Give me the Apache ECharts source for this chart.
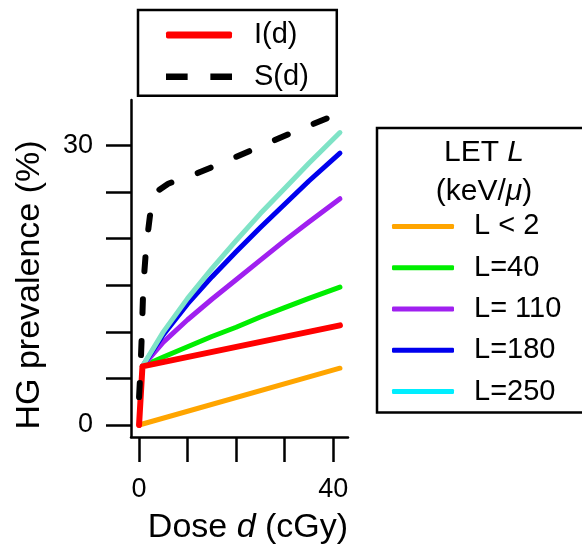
<!DOCTYPE html>
<html>
<head>
<meta charset="utf-8">
<script src="https://cdn.jsdelivr.net/npm/echarts@6/dist/echarts.min.js"></script>
<style>
html, body { margin: 0; padding: 0; background: #fff; }
#container { width: 582px; height: 546px; }
</style>
</head>
<body>
<div id="container"></div>
<script>
// axis ticks / labels
const doseTicks = [0, 10, 20, 30, 40];
const doseLabels = [0, 40];
const prevTicks = [0, 5, 10, 15, 20, 25, 30];
const prevLabels = [0, 30];

// LET curves
const letNames = ['L < 2', 'L=40', 'L= 110', 'L=180', 'L=250'];
const orangeDose = [0, 41.4];
const orangeVal = [0, 6.1];
const letDose = [0.7, 5, 10, 15, 20, 25, 30, 35, 41.4];
const greenVal = [6.3, 7.3, 8.4, 9.5, 10.5, 11.6, 12.6, 13.6, 14.8];
const purpleVal = [6.3, 8.9, 11.3, 13.5, 15.6, 17.7, 19.8, 21.8, 24.3];
const blueVal = [6.3, 9.7, 13.0, 15.9, 18.6, 21.2, 23.7, 26.2, 29.2];
const cyanVal = [6.3, 10.0, 13.6, 16.8, 19.8, 22.7, 25.4, 28.1, 31.4];

// I(d) and S(d)
const iDose = [0, 0.7, 41.4];
const iVal = [0, 6.3, 10.7];
const sDose = [0, 0.3, 0.55, 0.83, 1.1, 1.4, 1.9, 2.4, 3, 4, 6, 8, 10, 16, 24, 32, 41.4];
const sVal = [3, 6, 9.5, 14.1, 16.5, 18.6, 21, 23.1, 24.3, 25.2, 25.9, 26.3, 26.6, 27.9, 29.7, 31.5, 33.5];

const FONT = 'Liberation Sans';
const DASH_ICON = 'path://M0,0h20v6h-20z M41,0h20v6h-20z';

function pairs(xs, ys) {
	return xs.map((x, i) => [x, ys[i]]);
}

function curve(name, xs, ys, color, width) {
	return {
		name: name,
		type: 'line',
		data: pairs(xs, ys),
		symbol: 'none',
		color: color,
		lineStyle: { color: color, width: width || 5, cap: 'round', join: 'round' }
	};
}

var myChart = echarts.init(document.getElementById('container'));

var option = {
	animation: false,
	backgroundColor: '#fff',
	grid: { left: 131, top: 100, width: 217, height: 337 },
	xAxis: {
		type: 'value',
		min: -1.66,
		max: 43.06,
		axisLine: { onZero: false, lineStyle: { color: '#000', width: 2.5 } },
		axisTick: { customValues: doseTicks, length: 25, lineStyle: { color: '#000', width: 2.5 } },
		axisLabel: { customValues: doseLabels, margin: 39, fontFamily: FONT, fontSize: 27, color: '#000' },
		splitLine: { show: false }
	},
	yAxis: {
		type: 'value',
		min: -1.29,
		max: 34.9,
		axisLine: { onZero: false, lineStyle: { color: '#000', width: 2.5 } },
		axisTick: { customValues: prevTicks, length: 25, lineStyle: { color: '#000', width: 2.5 } },
		axisLabel: { customValues: prevLabels, margin: 38, fontFamily: FONT, fontSize: 27, color: '#000' },
		splitLine: { show: false }
	},
	legend: [
		{
			data: [
				{ name: 'I(d)', icon: 'roundRect' },
				{ name: 'S(d)', icon: DASH_ICON }
			],
			orient: 'vertical',
			left: 138,
			top: 10,
			padding: [10, 28, 4, 28],
			itemWidth: 66,
			itemHeight: 7,
			itemGap: 11.7,
			borderColor: '#000',
			borderWidth: 2.5,
			selectedMode: false,
			textStyle: { fontFamily: FONT, fontSize: 29, lineHeight: 30, color: '#000', padding: [0, 0, 0, 17] }
		},
		{
			data: [
				{ name: letNames[0] },
				{ name: letNames[1] },
				{ name: letNames[2] },
				{ name: letNames[3] },
				{ name: letNames[4], itemStyle: { color: '#00EEFF' } }
			],
			icon: 'roundRect',
			orient: 'vertical',
			left: 377,
			top: 128,
			padding: [83.4, 60, 6, 15],
			itemWidth: 62,
			itemHeight: 5,
			itemGap: 11.3,
			borderColor: '#000',
			borderWidth: 2.5,
			selectedMode: false,
			textStyle: { fontFamily: FONT, fontSize: 29, lineHeight: 30, color: '#000', padding: [0, 0, 0, 15] }
		}
	],
	graphic: [
		{
			type: 'text',
			x: 484,
			y: 172,
			style: {
				text: 'LET {i|L}\n(keV/{i|μ})',
				align: 'center',
				verticalAlign: 'middle',
				fontFamily: FONT,
				fontSize: 30,
				lineHeight: 38.7,
				fill: '#000',
				rich: { i: { fontFamily: FONT, fontSize: 30, fontStyle: 'italic', lineHeight: 38.7 } }
			}
		},
		{
			type: 'text',
			x: 248,
			y: 528,
			style: {
				text: 'Dose {i|d} (cGy)',
				align: 'center',
				verticalAlign: 'middle',
				fontFamily: FONT,
				fontSize: 34,
				fill: '#000',
				rich: { i: { fontFamily: FONT, fontSize: 34, fontStyle: 'italic' } }
			}
		},
		{
			type: 'text',
			x: 30,
			y: 285,
			rotation: Math.PI / 2,
			style: {
				text: 'HG prevalence (%)',
				align: 'center',
				verticalAlign: 'middle',
				fontFamily: FONT,
				fontSize: 34,
				fill: '#000'
			}
		}
	],
	series: [
		curve(letNames[0], orangeDose, orangeVal, '#FFA500'),
		curve(letNames[1], letDose, greenVal, '#00EE00'),
		curve(letNames[2], letDose, purpleVal, '#A020F0'),
		curve(letNames[3], letDose, blueVal, '#0000EE'),
		curve(letNames[4], letDose, cyanVal, '#7FE3C6'),
		curve('I(d)', iDose, iVal, '#FF0000', 6),
		{
			name: 'S(d)',
			type: 'line',
			data: pairs(sDose, sVal),
			symbol: 'none',
			color: '#000',
			lineStyle: { color: '#000', width: 6, type: [14, 28], cap: 'round', join: 'round' }
		}
	]
};

myChart.setOption(option);
</script>
</body>
</html>
